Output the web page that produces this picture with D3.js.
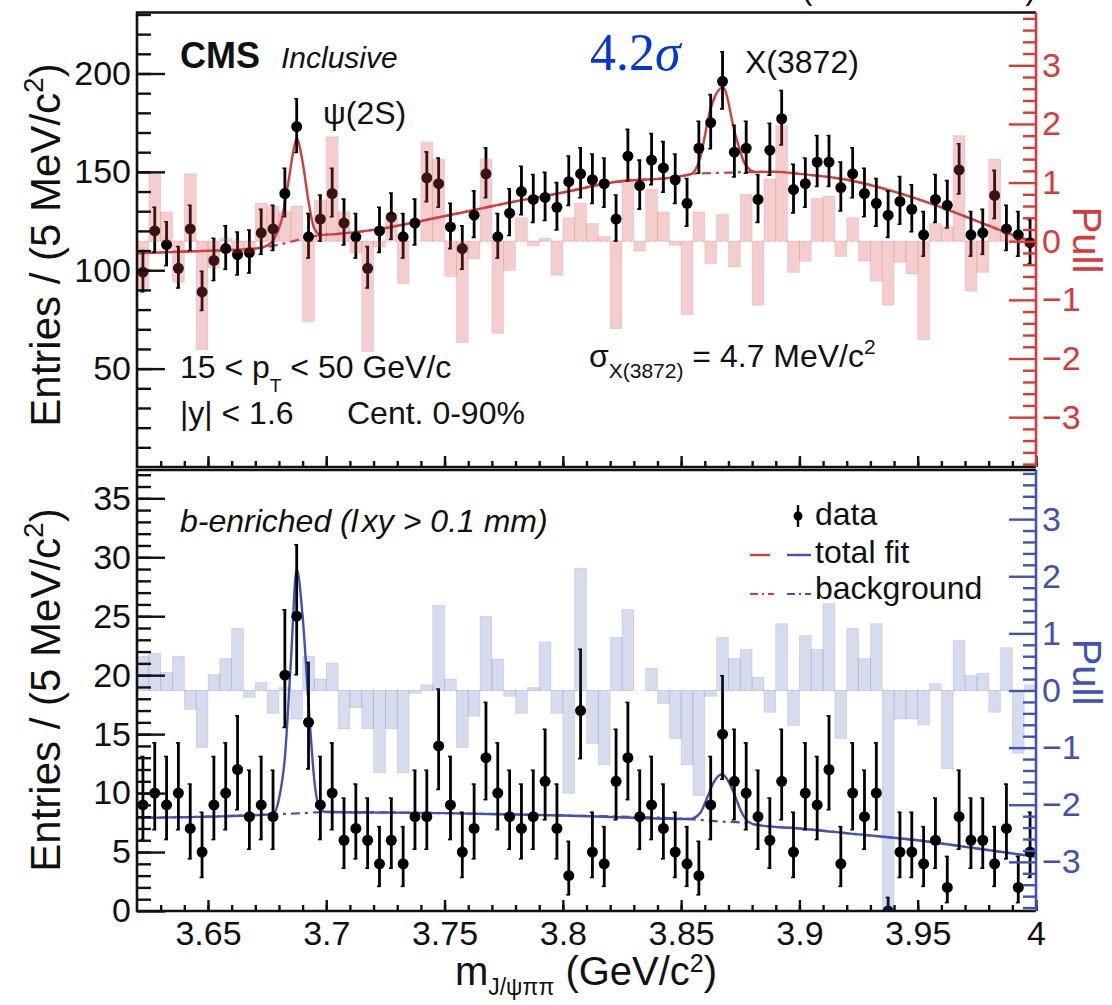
<!DOCTYPE html>
<html><head><meta charset="utf-8">
<script src="https://cdn.jsdelivr.net/npm/d3@7"></script>
<style>
body{margin:0;background:#fff}
svg{display:block}
text{font-family:"Liberation Sans",Arial,Helvetica,sans-serif;fill:#111}
</style>
</head><body>
<svg id="c" width="1112" height="1005"></svg>
<script>
// ---------------- data ----------------
const massCenters = [3.6225,3.6275,3.6325,3.6375,3.6425,3.6475,3.6525,3.6575,3.6625,3.6675,
3.6725,3.6775,3.6825,3.6875,3.6925,3.6975,3.7025,3.7075,3.7125,3.7175,
3.7225,3.7275,3.7325,3.7375,3.7425,3.7475,3.7525,3.7575,3.7625,3.7675,
3.7725,3.7775,3.7825,3.7875,3.7925,3.7975,3.8025,3.8075,3.8125,3.8175,
3.8225,3.8275,3.8325,3.8375,3.8425,3.8475,3.8525,3.8575,3.8625,3.8675,
3.8725,3.8775,3.8825,3.8875,3.8925,3.8975,3.9025,3.9075,3.9125,3.9175,
3.9225,3.9275,3.9325,3.9375,3.9425,3.9475,3.9525,3.9575,3.9625,3.9675,
3.9725,3.9775,3.9825,3.9875,3.9925,3.9975];
const binWidth = 0.005;

const inclusiveCounts = [99,120,113,101,121,89,105,111,108,109,
119,121,139,173,117,126,139,124,117,101,
120,127,117,124,147,144,122,111,128,149,
117,129,140,136,137,132,145,149,146,144,
126,158,143,156,152,146,134,162,175,196,
160,162,136,161,177,141,144,155,155,142,
149,139,134,128,135,131,118,136,133,151,
118,119,138,121,118,114];

const inclusivePulls = [-0.85,1.15,0.5,-0.7,1.15,-1.85,-0.45,0.05,-0.2,-0.2,
0.65,0.6,0.5,0.6,-1.37,0.7,1.78,0.5,-0.2,-1.88,
-0.1,0.45,-0.72,0.0,1.69,1.4,-0.6,-1.73,-0.3,1.4,
-1.57,-0.5,0.4,-0.08,0.05,-0.58,0.4,0.65,0.3,0.08,
-1.49,1.06,-0.17,0.89,0.5,-0.07,-1.25,0.5,-0.38,0.46,
-0.44,0.8,-1.09,1.06,1.97,-0.53,-0.34,0.73,0.77,-0.26,
0.4,-0.34,-0.68,-1.09,-0.36,-0.56,-1.68,0.3,0.25,1.8,
-0.85,-0.53,1.4,0.15,0.05,-0.1];

const inclusiveFitMass = [3.620,3.640,3.660,3.670,3.675,3.678,3.681,3.684,3.6865,3.6875,3.690,3.6925,3.695,3.698,3.705,3.720,3.740,3.760,3.780,3.800,3.820,3.8495,3.8545,3.858,3.8622,3.8677,3.8728,3.877,3.8812,3.890,3.900,3.920,3.940,3.960,3.975,3.990,4.000];
const inclusiveFitVal  = [108.6,109.5,110.3,111,112.5,116,125,145,163,167,155,135,121,118,118.5,120.5,125,130,135,139.5,144.5,147.7,149,157,181,193,169.5,154,150,150,149,146,140,132,125,118,114];
const inclusiveBkgMass = [3.620,3.640,3.660,3.670,3.680,3.690,3.698,3.705,3.720,3.740,3.760,3.780,3.800,3.820,3.8495,3.8545,3.860,3.870,3.8812,3.890,3.900,3.920,3.940,3.960,3.975,3.990,4.000];
const inclusiveBkgVal  = [108.6,109.5,110.3,111,113,116,118,118.5,120.5,125,130,135,139.5,144.5,147.7,149,149.3,149.6,150,150,149,146,140,132,125,118,114];

const benrichedCounts = [9,10,9,10,7,5,9,10,12,8,
9,8,20,25,16,9,10,6,7,6,
4,6,4,8,8,14,9,5,7,13,
10,8,7,8,11,7,3,17,5,4,
11,13,8,9,7,5,4,3,9,15,
11,10,8,6,11,5,10,9,12,4,
10,8,10,0,5,5,4,6,2,8,
6,6,4,7,2,5];

const benrichedPulls = [0.6,0.65,0.32,0.6,-0.33,-1.0,0.28,0.56,1.09,-0.12,
0.14,-0.4,0.05,-0.5,0.6,0.2,0.48,-0.67,-0.3,-0.67,
-1.44,-0.67,-1.44,-0.05,0.1,1.49,0.2,-1.0,-0.45,1.3,
0.55,-0.1,-0.4,0.05,0.85,-0.4,-1.8,2.14,-0.93,-1.3,
0.93,1.42,0.0,0.39,-0.23,-0.84,-1.3,-1.84,-0.1,0.93,
0.56,0.72,0.23,-0.38,1.17,-0.61,0.96,0.72,1.52,-0.84,
1.09,0.56,1.17,-5.0,-0.5,-0.5,-0.6,0.12,-1.37,0.88,
0.26,0.3,-0.38,0.75,-1.1,0.1];

const benrichedFitMass = [3.620,3.650,3.6774,3.680,3.6825,3.685,3.6875,3.690,3.6927,3.695,3.6975,3.700,3.750,3.800,3.8537,3.858,3.861,3.864,3.8673,3.870,3.8727,3.8755,3.8782,3.882,3.900,3.925,3.950,3.975,4.000];
const benrichedFitVal  = [7.9,8.0,8.2,9.5,13,21,29,25,17,11,8.6,8.4,8.3,8.1,7.8,8.3,9.6,11.0,11.6,11.0,9.8,8.4,7.6,7.3,7.0,6.5,6.0,5.3,4.6];
const benrichedBkgMass = [3.620,3.650,3.6774,3.690,3.700,3.750,3.800,3.8537,3.866,3.8782,3.882,3.900,3.925,3.950,3.975,4.000];
const benrichedBkgVal  = [7.9,8.0,8.2,8.3,8.4,8.3,8.1,7.8,7.6,7.45,7.3,7.0,6.5,6.0,5.3,4.6];

const xTickValues = [3.65,3.7,3.75,3.8,3.85,3.9,3.95,4.0];
const xTickLabels = ["3.65","3.7","3.75","3.8","3.85","3.9","3.95","4"];
const topYTicks = [50,100,150,200];
const botYTicks = [0,5,10,15,20,25,30,35];
const pullTicks = [-3,-2,-1,0,1,2,3];

// ---------------- layout ----------------
const X0 = 137, X1 = 1036;
const T0 = 12.5, T1 = 467, B0 = 470, B1 = 911;
const RED = "#d43c3c", BLUE = "#4152b2";

const x = d3.scaleLinear().domain([3.62, 4.0]).range([X0, X1]);
const yTop = d3.scaleLinear().domain([0, 231]).range([T1, T0]);
const pTop = d3.scaleLinear().domain([-3.85, 3.9]).range([T1, T0]);
const yBot = d3.scaleLinear().domain([0, 37.4]).range([B1, B0]);
const pBot = d3.scaleLinear().domain([-3.86, 3.86]).range([B1, B0]);

const svg = d3.select("#c");
const defs = svg.append("defs");
function addClip(id, y0, y1){
  defs.append("clipPath").attr("id", id).append("rect")
    .attr("x", X0).attr("y", y0).attr("width", X1 - X0).attr("height", y1 - y0);
}
addClip("clipTop", T0, T1);
addClip("clipBot", B0, B1);

function errLow(n){ if (n <= 0) return 0; const a = 1 - 1/(9*n) - 1/(3*Math.sqrt(n)); return n - n*a*a*a; }
function errHigh(n){ if (n <= 0) return 1.15; const m = n + 1; const a = 1 - 1/(9*m) + 1/(3*Math.sqrt(m)); return m*a*a*a - n; }

function panel(o){
  const g = svg.append("g");
  const gc = g.append("g").attr("clip-path", `url(#${o.clip})`);
  const line = d3.line().x(d => x(d[0])).y(d => o.y(d[1])).curve(d3.curveMonotoneX);
  gc.append("path").datum(d3.zip(o.bkgMass, o.bkgVal)).attr("d", line)
    .attr("fill", "none").attr("stroke", o.color).attr("stroke-width", 2.2)
    .attr("stroke-dasharray", "9,5,3,5");
  gc.append("path").datum(d3.zip(o.fitMass, o.fitVal)).attr("d", line)
    .attr("fill", "none").attr("stroke", o.color).attr("stroke-width", 2.4);
  const pts = massCenters.map((m, i) => ({m, n: o.counts[i], p: o.pulls[i]}));
  const eg = gc.append("g");
  eg.selectAll("line.e").data(pts).join("line")
    .attr("x1", d => x(d.m)).attr("x2", d => x(d.m))
    .attr("y1", d => o.y(d.n + errHigh(d.n))).attr("y2", d => o.y(d.n - errLow(d.n)))
    .attr("stroke", "#000").attr("stroke-width", 2.8);
  eg.selectAll("line.cu").data(pts).join("line")
    .attr("x1", d => x(d.m) - 2.5).attr("x2", d => x(d.m) + 1.4)
    .attr("y1", d => o.y(d.n + errHigh(d.n))).attr("y2", d => o.y(d.n + errHigh(d.n)))
    .attr("stroke", "#000").attr("stroke-width", 1.6);
  eg.selectAll("line.cl").data(pts.filter(d => d.n > 0)).join("line")
    .attr("x1", d => x(d.m) - 2.5).attr("x2", d => x(d.m) + 1.4)
    .attr("y1", d => o.y(d.n - errLow(d.n))).attr("y2", d => o.y(d.n - errLow(d.n)))
    .attr("stroke", "#000").attr("stroke-width", 1.6);
  eg.selectAll("circle").data(pts).join("circle")
    .attr("cx", d => x(d.m)).attr("cy", d => o.y(d.n)).attr("r", 5.5).attr("fill", "#000");
  gc.append("line").attr("x1", X0).attr("x2", X1).attr("y1", o.p(0)).attr("y2", o.p(0))
    .attr("stroke", o.barStroke).attr("stroke-width", 1).attr("stroke-dasharray", "3,3");
  const pd = o.p.domain();
  const clampP = v => Math.max(pd[0] - 0.2, Math.min(pd[1], v));
  gc.append("g").selectAll("rect").data(pts).join("rect")
    .attr("x", d => x(d.m - binWidth/2))
    .attr("width", d => x(d.m + binWidth/2) - x(d.m - binWidth/2))
    .attr("y", d => Math.min(o.p(0), o.p(clampP(d.p))))
    .attr("height", d => Math.abs(o.p(clampP(d.p)) - o.p(0)))
    .attr("fill", o.barFill).attr("stroke", o.barStroke).attr("stroke-width", 0.8);

  // axes
  g.append("g").attr("transform", `translate(${X0},0)`)
    .call(d3.axisLeft(o.y).tickValues(o.yTicks).tickSizeInner(-28).tickSizeOuter(0).tickPadding(6));
  g.append("g").attr("transform", `translate(${X0},0)`)
    .call(d3.axisLeft(o.y).tickValues(d3.range(o.minorStep, o.y.domain()[1], o.minorStep)).tickSizeInner(-14).tickSizeOuter(0).tickFormat(""));
  g.append("g").attr("transform", `translate(0,${o.bottom})`)
    .call(d3.axisBottom(x).tickValues(xTickValues).tickSizeInner(-11).tickSizeOuter(0).tickPadding(10)
      .tickFormat((d, i) => o.showX ? xTickLabels[i] : ""));
  g.append("g").attr("transform", `translate(0,${o.bottom})`)
    .call(d3.axisBottom(x).tickValues(d3.range(3.63, 4.0, 0.01)).tickSizeInner(-6).tickSizeOuter(0).tickFormat(""));
  const rAx = g.append("g").attr("transform", `translate(${X1},0)`)
    .call(d3.axisRight(o.p).tickValues(pullTicks).tickSizeInner(-27).tickSizeOuter(0).tickPadding(6)
      .tickFormat(d => d < 0 ? "\u2212" + Math.abs(d) : String(d)));
  const rMin = g.append("g").attr("transform", `translate(${X1},0)`)
    .call(d3.axisRight(o.p).tickValues(d3.range(-3.8, 3.85, 0.2).filter(v => Math.abs(v - Math.round(v)) > 0.05)).tickSizeInner(-13).tickSizeOuter(0).tickFormat(""));
  g.selectAll(".domain").remove();
  g.selectAll(".tick line").attr("stroke-width", 2.4).attr("stroke", "#111");
  g.selectAll(".tick text").attr("font-size", 34).attr("font-family", '"Liberation Sans",Arial,sans-serif');
  rAx.selectAll(".tick line").attr("stroke", o.color);
  rMin.selectAll(".tick line").attr("stroke", o.color);
  rAx.selectAll(".tick text").style("fill", o.color);
  // frame
  g.append("path").attr("d", `M${X1},${o.top}H${X0}V${o.bottom}H${X1}`)
    .attr("fill", "none").attr("stroke", "#111").attr("stroke-width", 2.6);
  g.append("line").attr("x1", X1).attr("x2", X1).attr("y1", o.top).attr("y2", o.bottom)
    .attr("stroke", o.color).attr("stroke-width", 2.6);
  const yt = g.append("text").attr("transform", `translate(60,${o.titleY}) rotate(-90)`)
    .attr("text-anchor", "middle").attr("font-size", 42);
  yt.append("tspan").text("Entries / (5 MeV/c");
  yt.append("tspan").attr("font-size", 28).attr("dy", -17).text("2");
  yt.append("tspan").attr("dy", 17).text(")");
  g.append("text").attr("transform", `translate(1073,${o.pullTitleY}) rotate(90)`)
    .attr("text-anchor", "middle").attr("font-size", 40).style("fill", o.color).text("Pull");
}

panel({clip: "clipTop", y: yTop, p: pTop, top: T0, bottom: T1, color: RED,
  counts: inclusiveCounts, pulls: inclusivePulls,
  fitMass: inclusiveFitMass, fitVal: inclusiveFitVal, bkgMass: inclusiveBkgMass, bkgVal: inclusiveBkgVal,
  yTicks: topYTicks, minorStep: 10, showX: false, titleY: 245, pullTitleY: 240,
  barFill: "rgba(215,73,73,0.27)", barStroke: "rgba(215,73,73,0.18)"});
panel({clip: "clipBot", y: yBot, p: pBot, top: B0, bottom: B1, color: BLUE,
  counts: benrichedCounts, pulls: benrichedPulls,
  fitMass: benrichedFitMass, fitVal: benrichedFitVal, bkgMass: benrichedBkgMass, bkgVal: benrichedBkgVal,
  yTicks: botYTicks, minorStep: 1, showX: true, titleY: 690, pullTitleY: 672,
  barFill: "rgba(60,83,176,0.21)", barStroke: "rgba(60,83,176,0.16)"});

// ---------------- annotations ----------------
function txt(xp, yp, size, s, opts = {}){
  const t = svg.append("text").attr("x", xp).attr("y", yp).attr("font-size", size).text(s);
  if (opts.weight) t.attr("font-weight", opts.weight);
  if (opts.style) t.attr("font-style", opts.style);
  if (opts.fill) t.style("fill", opts.fill);
  if (opts.anchor) t.attr("text-anchor", opts.anchor);
  return t;
}
txt(1036, -1, 32, "(PbPb 5.02 TeV)", {anchor: "end"});
txt(180, 68, 36, "CMS", {weight: "bold"});
txt(281, 68, 30, "Inclusive", {style: "italic"});
txt(323, 124, 32, "\u03c8(2S)");
const sig = svg.append("text").attr("x", 590).attr("y", 70).attr("font-size", 52)
  .style("font-family", '"Liberation Serif","DejaVu Serif",serif').style("fill", "#0536d2");
sig.append("tspan").text("4.2");
sig.append("tspan").attr("font-style", "italic").text("\u03c3");
txt(745, 73, 32, "X(3872)");

const pt = svg.append("text").attr("x", 180).attr("y", 378).attr("font-size", 32);
pt.append("tspan").text("15 < p");
pt.append("tspan").attr("font-size", 19).attr("dy", 14).text("T");
pt.append("tspan").attr("dy", -14).text(" < 50 GeV/c");
txt(180, 424, 32, "|y| < 1.6");
txt(347, 424, 32, "Cent. 0-90%");
const sx = svg.append("text").attr("x", 589).attr("y", 367).attr("font-size", 32);
sx.append("tspan").text("\u03c3");
sx.append("tspan").attr("font-size", 21).attr("dy", 11).text("X(3872)");
sx.append("tspan").attr("dy", -11).text(" = 4.7 MeV/c");
sx.append("tspan").attr("font-size", 21).attr("dy", -13).text("2");

const be = svg.append("text").attr("x", 180).attr("y", 532).attr("font-size", 32).attr("font-style", "italic");
be.append("tspan").text("b-enriched (l");
be.append("tspan").attr("dx", 4).text("xy > 0.1 mm)");

// legend
svg.append("line").attr("x1", 798).attr("x2", 798).attr("y1", 505).attr("y2", 527).attr("stroke", "#000").attr("stroke-width", 2.4);
svg.append("circle").attr("cx", 798).attr("cy", 516).attr("r", 4.5).attr("fill", "#000");
txt(815, 525, 32, "data");
svg.append("line").attr("x1", 750).attr("x2", 770).attr("y1", 555).attr("y2", 555).attr("stroke", RED).attr("stroke-width", 2.4);
svg.append("line").attr("x1", 787).attr("x2", 811).attr("y1", 555).attr("y2", 555).attr("stroke", BLUE).attr("stroke-width", 2.4);
txt(815, 563, 32, "total fit");
svg.append("line").attr("x1", 750).attr("x2", 774).attr("y1", 594).attr("y2", 594).attr("stroke", RED).attr("stroke-width", 2.2).attr("stroke-dasharray", "8,4,2,4");
svg.append("line").attr("x1", 787).attr("x2", 811).attr("y1", 594).attr("y2", 594).attr("stroke", BLUE).attr("stroke-width", 2.2).attr("stroke-dasharray", "8,4,2,4");
txt(815, 599, 32, "background");

const xt = svg.append("text").attr("x", 586).attr("y", 985).attr("font-size", 40).attr("text-anchor", "middle");
xt.append("tspan").text("m");
xt.append("tspan").attr("font-size", 23).attr("dy", 10).text("J/\u03c8\u03c0\u03c0");
xt.append("tspan").attr("dy", -10).text(" (GeV/c");
xt.append("tspan").attr("font-size", 25).attr("dy", -13).text("2");
xt.append("tspan").attr("dy", 13).text(")");
</script>
</body></html>
